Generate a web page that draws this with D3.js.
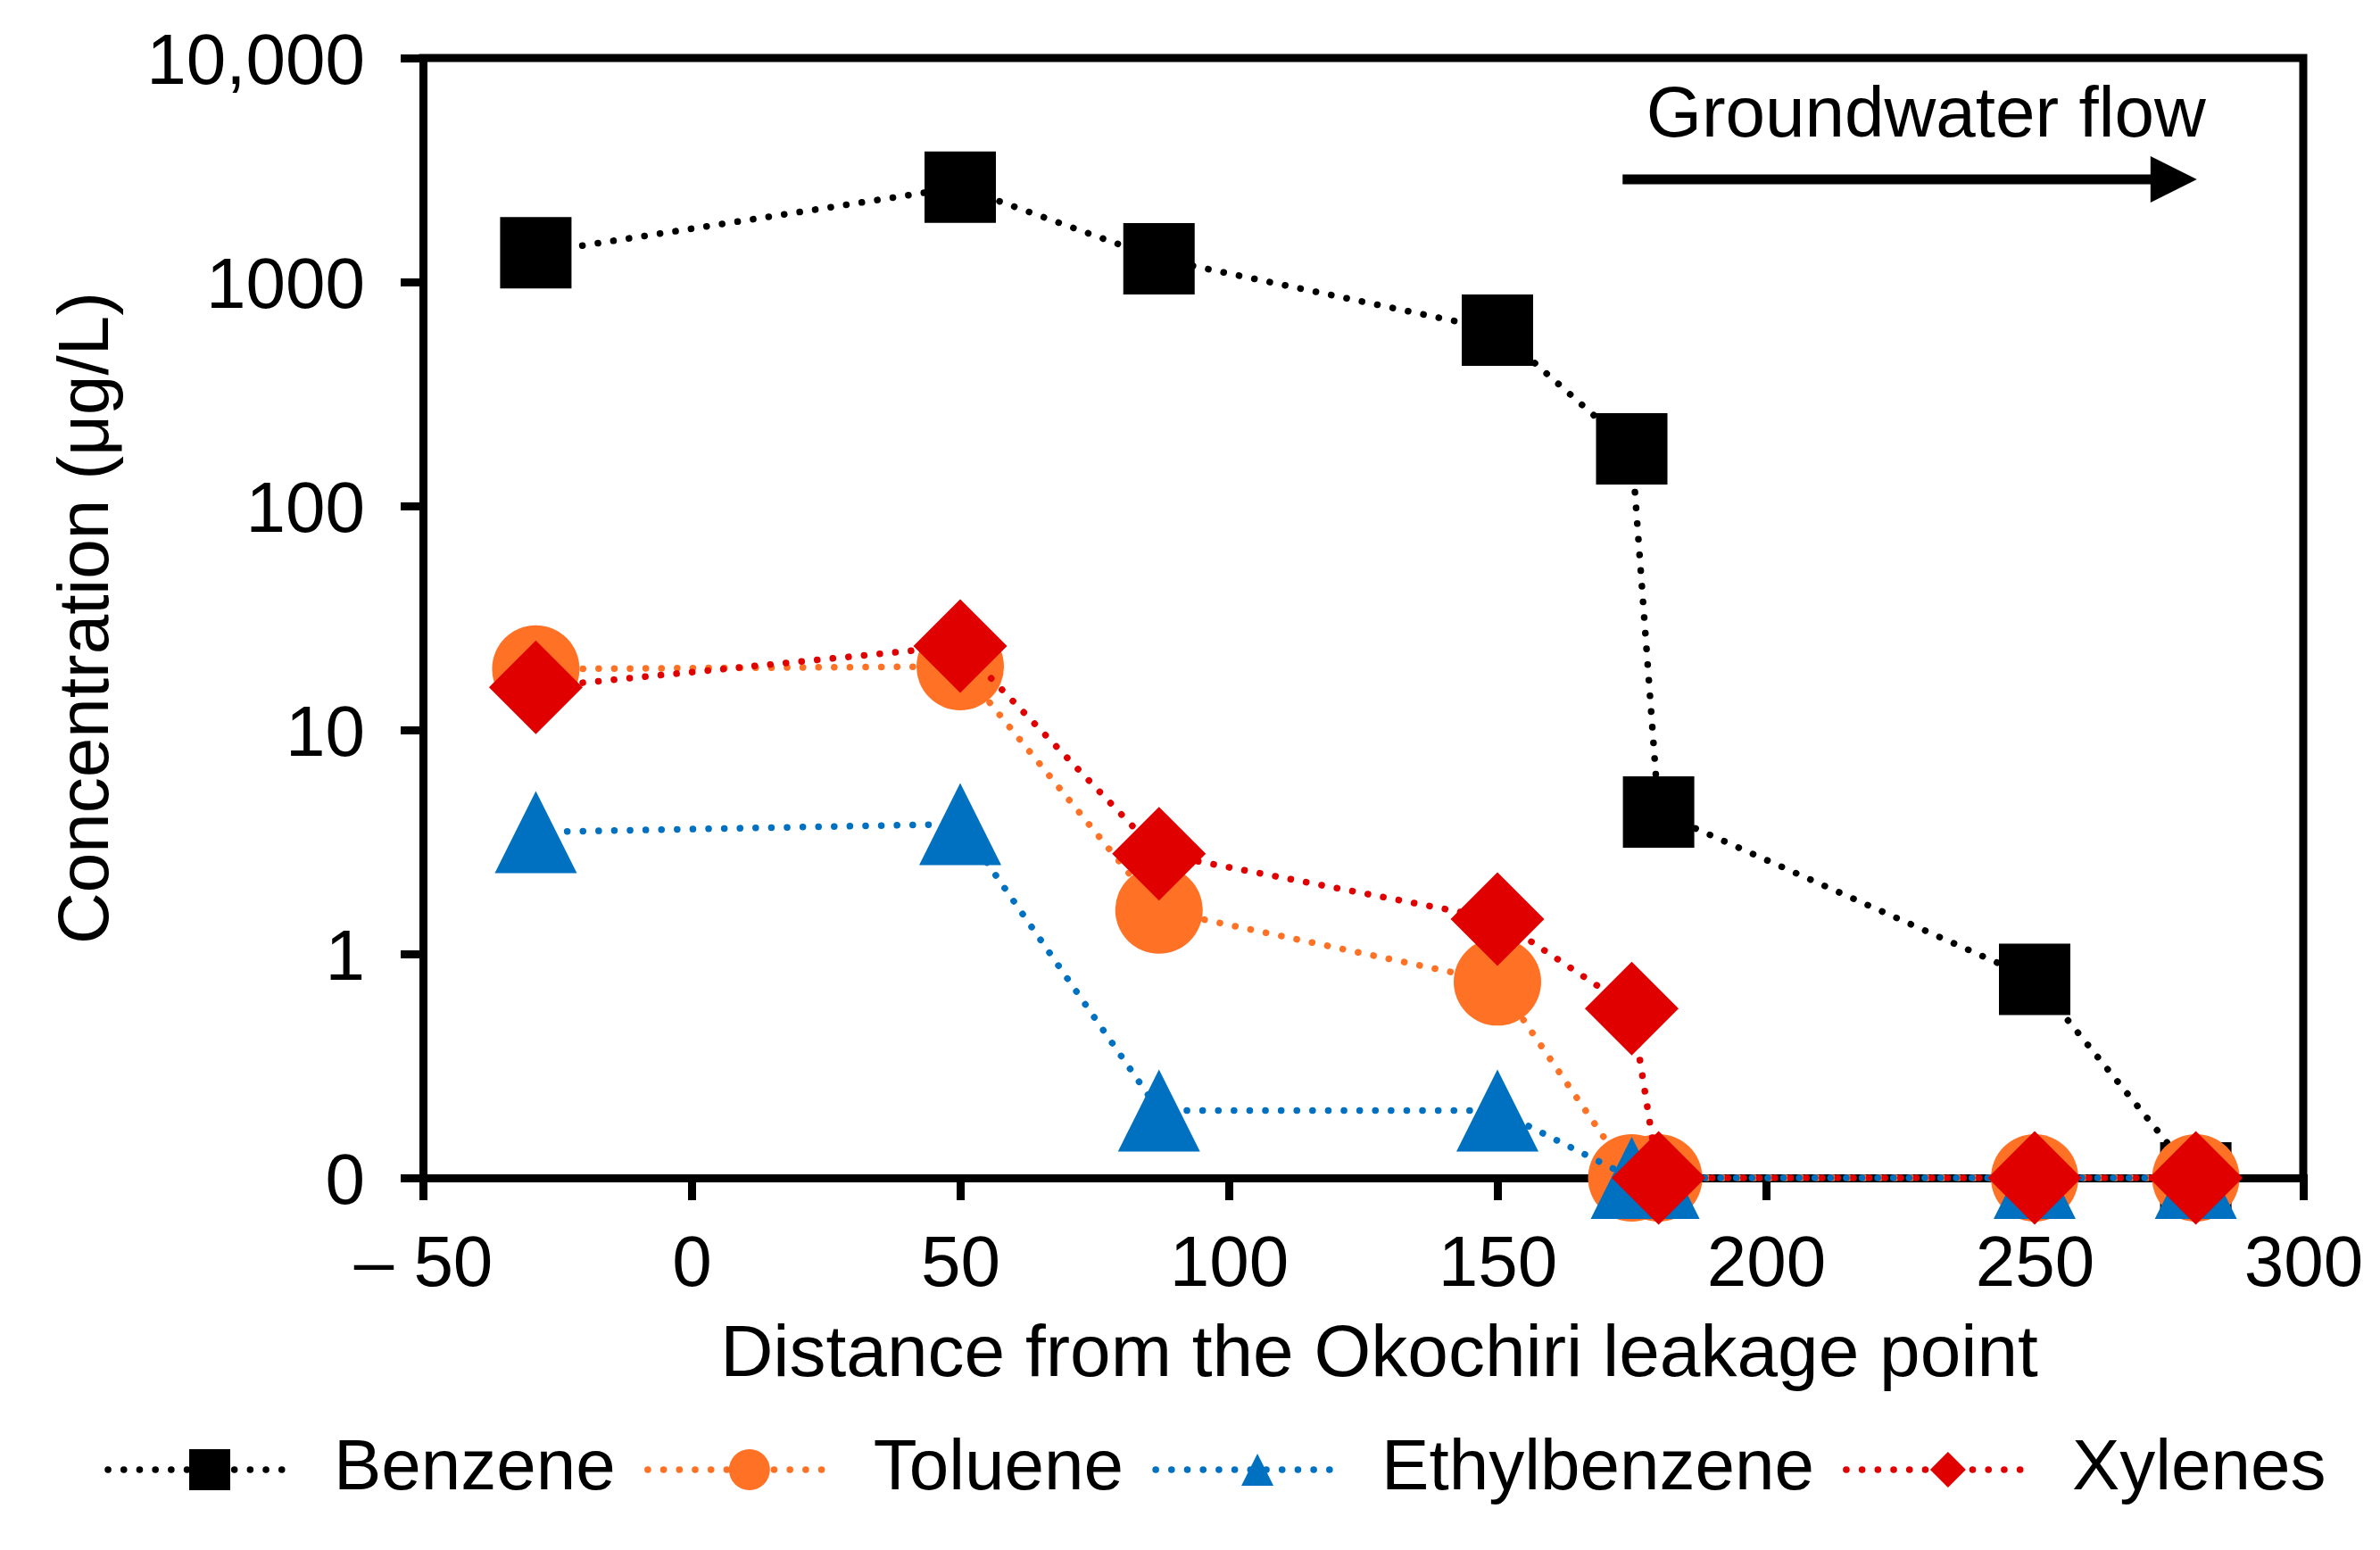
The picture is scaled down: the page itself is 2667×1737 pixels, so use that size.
<!DOCTYPE html>
<html>
<head>
<meta charset="utf-8">
<script src="https://cdn.jsdelivr.net/npm/d3@7"></script>
<style>
  body { margin:0; background:#fff; }
  text { font-family: Arial, "Liberation Sans", sans-serif; fill:#000; }
</style>
</head>
<body>
<svg class="chart"></svg>
<script>
// distance from the leak (m) and BTEX concentrations (ug/L), 0 = not detected
var distances    = [-29, 50, 87, 150, 175, 180, 250, 280];
var benzene      = [1350, 2650, 1270, 610, 180, 4.3, 0.77, 0];
var toluene      = [18.7, 19.2, 1.57, 0.75, 0, 0, 0, 0];
var ethylbenzene = [3.5, 3.8, 0.2, 0.2, 0, 0, 0, 0];
var xylenes      = [15.5, 23.7, 2.8, 1.43, 0.57, 0, 0, 0];

var seriesNames  = ["Benzene", "Toluene", "Ethylbenzene", "Xylenes"];
var seriesColors = ["#000000", "#FF7226", "#0070C0", "#E00000"];
var seriesShapes = ["square", "circle", "triangle", "diamond"];

var xTicks      = [-50, 0, 50, 100, 150, 200, 250, 300];
var yTicks      = [0.1, 1, 10, 100, 1000, 10000];
var yTickLabels = ["0", "1", "10", "100", "1000", "10,000"];

var drawChart = function(w, h)
{
  var svg = d3.select(".chart")
              .attr("width", w)
              .attr("height", h);

  var margins = {top:65, bottom:417, left:474, right:86};

  var xScale = d3.scaleLinear()
                 .domain([-50, 300])
                 .range([margins.left, w - margins.right]);
  var yScale = d3.scaleLog()
                 .domain([0.1, 10000])
                 .range([h - margins.bottom, margins.top]);

  // not detected values sit on the "0" line at the bottom
  var yPos = function(v) { return yScale(v > 0 ? v : 0.1); };

  // frame: top and right edges
  svg.append("path")
     .attr("d", "M" + xScale(-50) + "," + yScale(10000) + "H" + xScale(300) + "V" + yScale(0.1))
     .attr("fill", "none")
     .attr("stroke", "#000")
     .attr("stroke-width", 9)
     .attr("stroke-linecap", "square");

  var xAxis = d3.axisBottom(xScale)
                .tickValues(xTicks)
                .tickSize(25)
                .tickSizeOuter(0)
                .tickPadding(38)
                .tickFormat(function(d){ return d < 0 ? "\u2013 " + Math.abs(d) : d; });
  var yAxis = d3.axisLeft(yScale)
                .tickValues(yTicks)
                .tickSize(25)
                .tickSizeOuter(0)
                .tickPadding(40)
                .tickFormat(function(d, i){ return yTickLabels[i]; });

  var gx = svg.append("g").classed("xAxis", true)
              .attr("transform", "translate(0," + yScale(0.1) + ")")
              .call(xAxis);
  var gy = svg.append("g").classed("yAxis", true)
              .attr("transform", "translate(" + xScale(-50) + ",0)")
              .call(yAxis);

  [gx, gy].forEach(function(g){
    g.select(".domain").attr("stroke-width", 9).attr("stroke-linecap", "square");
    g.selectAll(".tick line").attr("stroke-width", 9);
    g.selectAll(".tick text")
     .attr("font-size", 80)
     .attr("font-family", "Arial, 'Liberation Sans', sans-serif");
  });
  gy.selectAll(".tick text").attr("dy", "0.36em");
  gx.selectAll(".tick text").attr("dy", "0.72em");

  // axis titles
  svg.append("text")
     .attr("x", (xScale(-50) + xScale(300)) / 2 + 18)
     .attr("y", 1542)
     .attr("text-anchor", "middle")
     .attr("font-size", 82)
     .text("Distance from the Okochiri leakage point");

  svg.append("text")
     .attr("transform", "translate(121," + (yScale(0.1) + yScale(10000)) / 2 + ") rotate(-90)")
     .attr("text-anchor", "middle")
     .attr("font-size", 80)
     .text("Concentration (\u03bcg/L)");

  // marker outlines, centred on the point
  var markerPath = function(shape, s)
  {
    var r = s / 2;
    if (shape == "square")   return "M" + (-r) + "," + (-r) + "h" + s + "v" + s + "h" + (-s) + "Z";
    if (shape == "triangle") return "M0," + (-r) + "L" + r + "," + r + "L" + (-r) + "," + r + "Z";
    if (shape == "diamond")  return "M0," + (-r) + "L" + r + ",0L0," + r + "L" + (-r) + ",0Z";
    return "M" + (-r) + ",0A" + r + "," + r + " 0 1,0 " + r + ",0A" + r + "," + r + " 0 1,0 " + (-r) + ",0Z";
  };
  var markerSize = {square:80, circle:98, triangle:92, diamond:105};
  var legendSize = {square:46, circle:46, triangle:36, diamond:40};

  var allSeries = [benzene, toluene, ethylbenzene, xylenes];

  var drawLine = d3.line()
                   .x(function(d){ return xScale(d.x); })
                   .y(function(d){ return yPos(d.y); });

  allSeries.forEach(function(values, s)
  {
    var pts = values.map(function(v, i){ return {x:distances[i], y:v}; });
    var g = svg.append("g").attr("class", "series");

    g.append("path")
     .datum(pts)
     .attr("d", drawLine)
     .attr("fill", "none")
     .attr("stroke", seriesColors[s])
     .attr("stroke-width", 7.5)
     .attr("stroke-linecap", "round")
     .attr("stroke-dasharray", "0.1 17.5");

    g.selectAll(".mark")
     .data(pts)
     .enter()
     .append("path")
     .attr("class", "mark")
     .attr("d", markerPath(seriesShapes[s], markerSize[seriesShapes[s]]))
     .attr("transform", function(d){ return "translate(" + xScale(d.x) + "," + yPos(d.y) + ")"; })
     .attr("fill", seriesColors[s]);
  });

  // groundwater flow arrow
  var arrowY = yScale(2870);
  svg.append("text")
     .attr("x", xScale(177.7))
     .attr("y", yScale(4460))
     .attr("font-size", 80)
     .text("Groundwater flow");
  svg.append("line")
     .attr("x1", xScale(173.3))
     .attr("x2", xScale(280.2) - 40)
     .attr("y1", arrowY)
     .attr("y2", arrowY)
     .attr("stroke", "#000")
     .attr("stroke-width", 11);
  svg.append("path")
     .attr("d", "M" + xScale(280.2) + "," + arrowY + "l-52,-26v52Z")
     .attr("fill", "#000");

  // legend row
  var legend = svg.append("g").attr("class", "legend");
  var lx = 121, ly = 1647;
  seriesNames.forEach(function(name, s)
  {
    var item = legend.append("g").attr("transform", "translate(" + lx + "," + ly + ")");
    item.append("line")
        .attr("x1", 0).attr("x2", 212)
        .attr("y1", 0).attr("y2", 0)
        .attr("stroke", seriesColors[s])
        .attr("stroke-width", 7.5)
        .attr("stroke-linecap", "round")
        .attr("stroke-dasharray", "0.1 17.6");
    item.append("path")
        .attr("d", markerPath(seriesShapes[s], legendSize[seriesShapes[s]]))
        .attr("transform", "translate(114,0)")
        .attr("fill", seriesColors[s]);
    var t = item.append("text")
                .attr("x", 253)
                .attr("y", 22)
                .attr("font-size", 80)
                .text(name);
    lx = lx + 253 + t.node().getComputedTextLength() + 36;
  });
}

drawChart(2667, 1737);
</script>
</body>
</html>
